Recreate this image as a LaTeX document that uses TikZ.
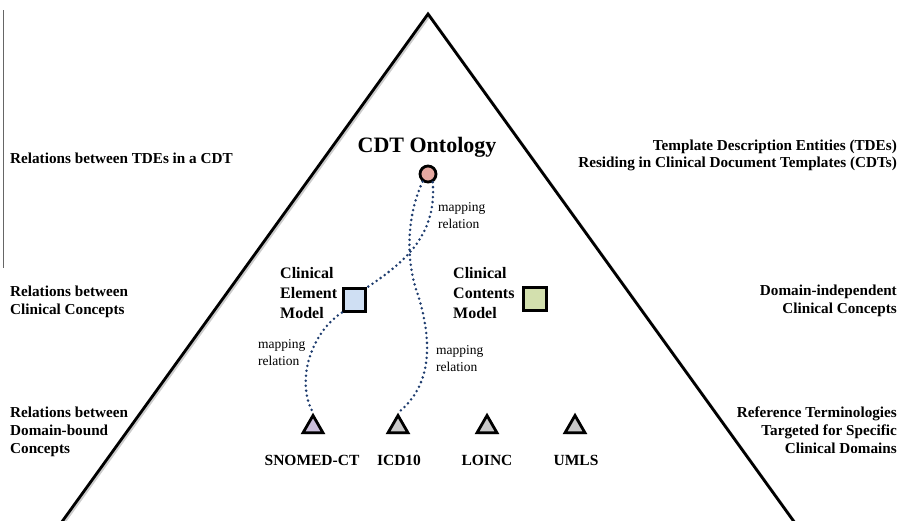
\documentclass[tikz,border=0pt]{standalone}
\usepackage{fontspec}
\setmainfont{Liberation Serif}
\usetikzlibrary{shapes.geometric,shadows}

\definecolor{linkblue}{HTML}{1E3C6E}
\definecolor{ontopink}{HTML}{E6A9A1}
\definecolor{cemblue}{HTML}{CFDFF3}
\definecolor{ccmgreen}{HTML}{D3E0AE}
\definecolor{termgray}{HTML}{C9C9C9}
\definecolor{snomedlilac}{HTML}{CBBFDB}

\def\pyramid{(428,14) -- (56,530) -- (800,530) -- cycle}
\tikzset{softshadow/.style={drop shadow={opacity=0.3,shadow xshift=1.5pt,shadow yshift=-1.5pt}}}

\begin{document}
\begin{tikzpicture}[x=1pt,y=-1pt,
  level/.style={font=\bfseries\fontsize{15.2}{17.8}\selectfont,inner sep=0pt},
  model/.style={font=\bfseries\fontsize{16}{20}\selectfont,inner sep=0pt,align=left,anchor=base west},
  maplabel/.style={font=\fontsize{13.5}{16.5}\selectfont,inner sep=0pt,align=left,anchor=base west},
  box/.style={draw,line width=2.8pt,minimum size=22.5pt,inner sep=0pt,softshadow},
  term/.style={regular polygon,regular polygon sides=3,draw,line width=2.8pt,
    minimum size=23pt,inner sep=0pt,fill=termgray,softshadow},
  termlabel/.style={font=\bfseries\fontsize{15.5}{18}\selectfont,inner sep=0pt,anchor=base},
  mapping/.style={linkblue,line width=2.8pt,line cap=round,dash pattern=on 0pt off 5pt}]

  \useasboundingbox (0,0) rectangle (901,520);
  \clip (0,0) rectangle (901,520);

  \draw[black!60,line width=0.9pt] (3,10) -- (3,268);

  \draw[black!20,line width=2.8pt,line join=miter,shift={(1.5,1.5)}] \pyramid;
  \draw[line width=2.8pt,line join=miter] \pyramid;

  \node[level,anchor=base west] (tdeRel) at (10,163) {Relations between TDEs in a CDT};
  \node[level,anchor=base west,align=left] (ccRel) at (10,314) {Relations between\\Clinical Concepts};
  \node[level,anchor=base west,align=left] (dbRel) at (10,453) {Relations between\\Domain-bound\\Concepts};

  \node[level,anchor=base east,align=right,font=\bfseries\fontsize{15.2}{16.8}\selectfont] (tde) at (897,167)
    {Template Description Entities (TDEs)\\Residing in Clinical Document Templates (CDTs)};
  \node[level,anchor=base east,align=right] (indep) at (897,313) {Domain-independent\\Clinical Concepts};
  \node[level,anchor=base east,align=right] (refTerm) at (897,453)
    {Reference Terminologies\\Targeted for Specific\\Clinical Domains};

  \node[font=\bfseries\fontsize{22}{26}\selectfont,inner sep=0pt,anchor=base] (ontoTitle) at (427,152) {CDT Ontology};
  \node[circle,draw,line width=2.8pt,fill=ontopink,minimum size=16pt,inner sep=0pt,softshadow] (onto) at (428,174) {};

  \node[model] (cemText) at (280,318) {Clinical\\Element\\Model};
  \node[box,fill=cemblue] (cem) at (354.5,300) {};
  \node[model] (ccmText) at (453,318) {Clinical\\Contents\\Model};
  \node[box,fill=ccmgreen] (ccm) at (535,299) {};

  \node[term,fill=snomedlilac] (snomed) at (313,427) {};
  \node[term] (icd) at (398,427) {};
  \node[term] (loinc) at (487,427) {};
  \node[term] (umls) at (575,427) {};

  \node[termlabel] (snomedText) at (312,465) {SNOMED-CT};
  \node[termlabel] (icdText) at (399,465) {ICD10};
  \node[termlabel] (loincText) at (487,465) {LOINC};
  \node[termlabel] (umlsText) at (576,465) {UMLS};

  \draw[mapping] (onto.-60) .. controls (437,235) and (405,262) .. (cem.north east);
  \draw[mapping] (onto.-125) .. controls (407,215) and (405,260) .. (418,295)
    .. controls (432,340) and (433,385) .. (icd.north);
  \draw[mapping] (cem.south west) .. controls (312,332) and (295,380) .. (snomed.north);

  \node[maplabel] (mapTop) at (438,228) {mapping\\relation};
  \node[maplabel] (mapLeft) at (258,365) {mapping\\relation};
  \node[maplabel] (mapRight) at (436,371) {mapping\\relation};

\end{tikzpicture}
\end{document}
